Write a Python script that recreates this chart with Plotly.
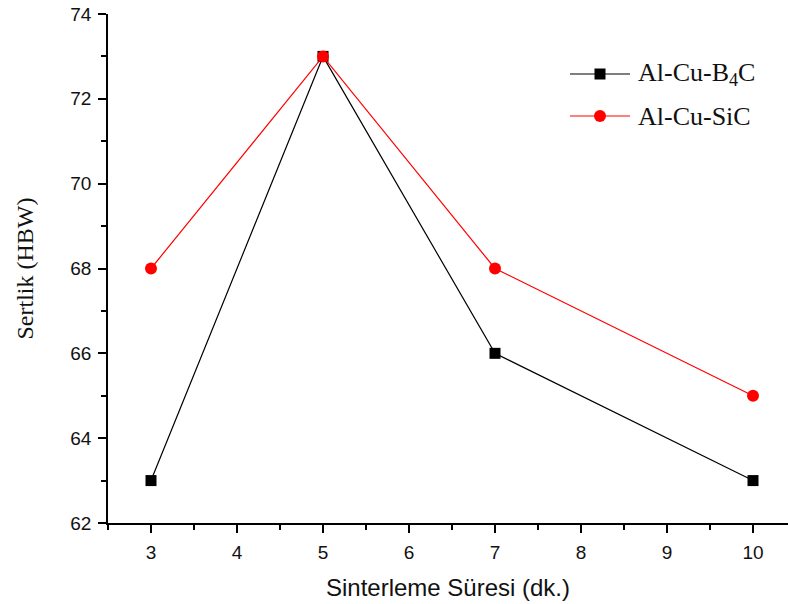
import plotly.graph_objects as go

# Sintering time (minutes) and Brinell hardness for the two composites
sure = [3, 5, 7, 10]
sertlik_b4c = [63, 73, 66, 63]
sertlik_sic = [68, 73, 68, 65]

x_ticks = [3, 4, 5, 6, 7, 8, 9, 10]
y_ticks = [62, 64, 66, 68, 70, 72, 74]

X_RANGE = [2.5, 10.407]
Y_RANGE = [62, 74]

fig = go.Figure()

fig.add_trace(go.Scatter(
    x=sure, y=sertlik_b4c, mode="lines+markers", name="Al-Cu-B<sub>4</sub>C",
    line=dict(color="black", width=1.2),
    marker=dict(symbol="square", size=11, color="black"),
    showlegend=False,
))
fig.add_trace(go.Scatter(
    x=sure, y=sertlik_sic, mode="lines+markers", name="Al-Cu-SiC",
    line=dict(color="#ff0000", width=1.2),
    marker=dict(symbol="circle", size=12, color="#ff0000"),
    showlegend=False,
))

tick_font = dict(family="Liberation Sans, Arial, sans-serif", size=19, color="#111")

fig.update_layout(
    width=788, height=604,
    margin=dict(l=108, r=0, t=14, b=81),
    paper_bgcolor="white", plot_bgcolor="white",
    xaxis=dict(
        range=X_RANGE, tickvals=x_ticks, ticks="outside", ticklen=8, tickwidth=1.5,
        tickcolor="black", showline=True, linecolor="black", linewidth=1.5,
        showgrid=False, zeroline=False, tickfont=tick_font, ticklabelstandoff=3,
        minor=dict(dtick=0.5, tick0=2.5, ticks="outside", ticklen=5, tickwidth=1.5,
                   tickcolor="black", showgrid=False),
        title=dict(text="Sinterleme Süresi (dk.)", standoff=18,
                   font=dict(family="Liberation Sans, Arial, sans-serif", size=24, color="#111")),
    ),
    yaxis=dict(
        range=Y_RANGE, tickvals=y_ticks, ticks="outside", ticklen=8, tickwidth=1.5,
        tickcolor="black", showline=True, linecolor="black", linewidth=1.5,
        showgrid=False, zeroline=False, tickfont=tick_font, ticklabelstandoff=3,
        minor=dict(dtick=1, tick0=62, ticks="outside", ticklen=5, tickwidth=1.5,
                   tickcolor="black", showgrid=False),
        title=dict(text="Sertlik (HBW)", standoff=30,
                   font=dict(family="Liberation Serif, Times New Roman, serif", size=24, color="#111")),
    ),
    xaxis2=dict(
        overlaying="x", side="top", range=X_RANGE, tickvals=x_ticks, ticks="inside",
        ticklen=8, tickwidth=1.5, tickcolor="black", showticklabels=False,
        showline=True, linecolor="black", linewidth=1.5, showgrid=False, zeroline=False,
        minor=dict(dtick=0.5, tick0=2.5, ticks="inside", ticklen=5, tickwidth=1.5,
                   tickcolor="black", showgrid=False),
    ),
    yaxis2=dict(
        overlaying="y", side="right", range=Y_RANGE, tickvals=y_ticks, ticks="inside",
        ticklen=8, tickwidth=1.5, tickcolor="black", showticklabels=False,
        showline=False, showgrid=False, zeroline=False,
        minor=dict(dtick=1, tick0=62, ticks="inside", ticklen=5, tickwidth=1.5,
                   tickcolor="black", showgrid=False),
    ),
)

# Legend drawn in paper coordinates: sample line, marker and label for each series
legend_rows = [
    ("Al-Cu-B<sub>4</sub>C", "black", "square", 74),
    ("Al-Cu-SiC", "#ff0000", "circle", 116),
]
L, T, PW, PH = 108, 14, 680, 509

def px_x(p):
    return (p - L) / PW

def px_y(p):
    return 1 - (p - T) / PH

for label, color, sym, ypix in legend_rows:
    yy = px_y(ypix)
    fig.add_shape(type="line", xref="paper", yref="paper",
                  x0=px_x(570), x1=px_x(630), y0=yy, y1=yy,
                  line=dict(color=color, width=1.2))
    r = 5.5
    if sym == "square":
        fig.add_shape(type="rect", xref="paper", yref="paper",
                      x0=px_x(600 - r), x1=px_x(600 + r), y0=px_y(ypix + r), y1=px_y(ypix - r),
                      fillcolor=color, line=dict(width=0))
    else:
        r = 6
        fig.add_shape(type="circle", xref="paper", yref="paper",
                      x0=px_x(600 - r), x1=px_x(600 + r), y0=px_y(ypix + r), y1=px_y(ypix - r),
                      fillcolor=color, line=dict(width=0))
    fig.add_annotation(xref="paper", yref="paper", x=px_x(636), y=yy, text=label,
                       showarrow=False, xanchor="left", yanchor="middle",
                       font=dict(family="Liberation Serif, Times New Roman, serif", size=26, color="#111"))

fig.write_html("out.html")
